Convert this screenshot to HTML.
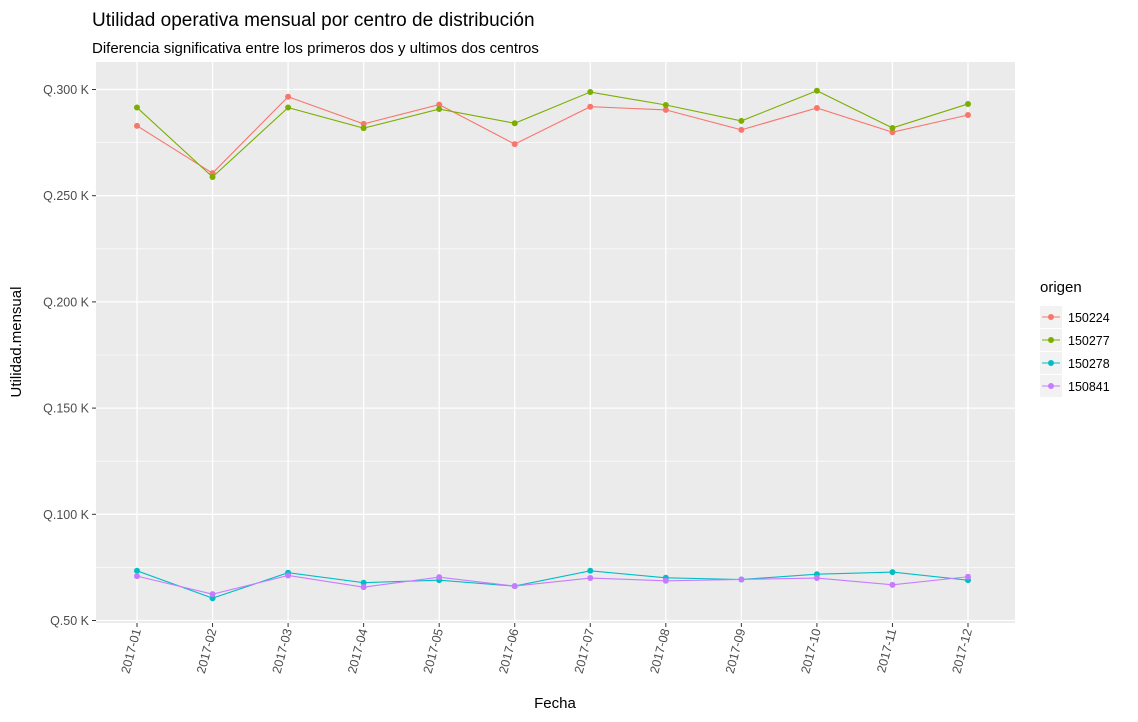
<!DOCTYPE html>
<html><head><meta charset="utf-8"><style>
body{margin:0;background:#fff;font-family:"Liberation Sans",sans-serif}
</style></head><body>
<svg id="c" width="1138" height="717" xmlns="http://www.w3.org/2000/svg" font-family="Liberation Sans, sans-serif">
<text x="92" y="26" font-size="19" fill="#000">Utilidad operativa mensual por centro de distribución</text>
<text x="92" y="53" font-size="15" fill="#000">Diferencia significativa entre los primeros dos y ultimos dos centros</text>
<rect x="96" y="62" width="919" height="561" fill="#ebebeb"/>
<g id="grid"></g><g id="axes"></g><g id="series"></g>
<text x="555" y="708" font-size="15" text-anchor="middle" fill="#000">Fecha</text>
<text transform="translate(21,342) rotate(-90)" font-size="15" text-anchor="middle" fill="#000">Utilidad.mensual</text>
<g id="legend"></g>
</svg>
<script>
const categories=["2017-01","2017-02","2017-03","2017-04","2017-05","2017-06","2017-07","2017-08","2017-09","2017-10","2017-11","2017-12"];
const seriesNames=["150224","150277","150278","150841"];
const colors=["#f8766d","#7cae00","#00bfc4","#c77cff"];
const s150224=[282.9,260.6,296.6,283.8,292.9,274.3,291.9,290.4,281,291.3,279.9,288];
const s150277=[291.5,258.8,291.5,281.8,290.8,284.1,298.8,292.7,285.2,299.4,281.9,293.2];
const s150278=[73.4,60.5,72.5,67.8,69,66.2,73.4,70.1,69.3,71.8,72.8,69];
const s150841=[70.9,62.4,71.2,65.7,70.4,66.2,70,68.7,69.3,70,66.8,70.6];
const yTicks=[50,100,150,200,250,300];
const yTickLabels=["Q.50 K","Q.100 K","Q.150 K","Q.200 K","Q.250 K","Q.300 K"];
const allSeries=[s150224,s150277,s150278,s150841];
const NS="http://www.w3.org/2000/svg";
function x(i){return 137+i*(968-137)/11;}
function y(v){return 620.5-(v-50)*2.124;}
function mk(t,a,p){const e=document.createElementNS(NS,t);for(const k in a)e.setAttribute(k,a[k]);p.appendChild(e);return e;}
const grid=document.getElementById('grid'),axes=document.getElementById('axes'),ser=document.getElementById('series'),leg=document.getElementById('legend');
for(let i=0;i<yTicks.length-1;i++){const v=(yTicks[i]+yTicks[i+1])/2;const l=mk('line',{x1:96,x2:1015,y1:y(v),y2:y(v),stroke:'#fff','stroke-width':0.6},grid);

}
for(let i=0;i<categories.length-1;i++){}
yTicks.forEach((v,i)=>{const l=mk('line',{x1:96,x2:1015,y1:y(v),y2:y(v),stroke:'#fff','stroke-width':1.3},grid);


mk('line',{x1:92,x2:96,y1:y(v),y2:y(v),stroke:'#333'},axes);
const t=mk('text',{x:89,y:y(v)+4.5,'font-size':12.5,'text-anchor':'end',fill:'#4d4d4d'},axes);t.textContent=yTickLabels[i];

});
categories.forEach((c,i)=>{const l=mk('line',{x1:x(i),x2:x(i),y1:62,y2:623,stroke:'#fff','stroke-width':1.3},grid);


mk('line',{x1:x(i),x2:x(i),y1:623,y2:627,stroke:'#333'},axes);
const t=mk('text',{transform:`translate(${x(i)+4},630) rotate(-75)`,'font-size':12.5,'text-anchor':'end',fill:'#4d4d4d'},axes);t.textContent=c;

});
allSeries.forEach((s,k)=>{const g=mk('g',{},ser);


mk('polyline',{points:s.map((v,i)=>x(i)+','+y(v)).join(' '),fill:'none',stroke:colors[k],'stroke-width':1.1},g);
s.forEach((v,i)=>{const p=mk('circle',{cx:x(i),cy:y(v),r:3,fill:colors[k]},g);

});});
const lt=mk('text',{x:1040,y:292,'font-size':15,fill:'#000'},leg);lt.textContent='origen';


seriesNames.forEach((n,k)=>{const cy=317+k*23;const g=mk('g',{},leg);


mk('rect',{x:1040,y:cy-11,width:22,height:22,fill:'#f2f2f2'},g);
mk('line',{x1:1042,x2:1060,y1:cy,y2:cy,stroke:colors[k],'stroke-width':1.1},g);
mk('circle',{cx:1051,cy:cy,r:3,fill:colors[k]},g);
const t=mk('text',{x:1068,y:cy+5,'font-size':12.5,fill:'#000'},g);t.textContent=n;});
</script>
</body></html>
